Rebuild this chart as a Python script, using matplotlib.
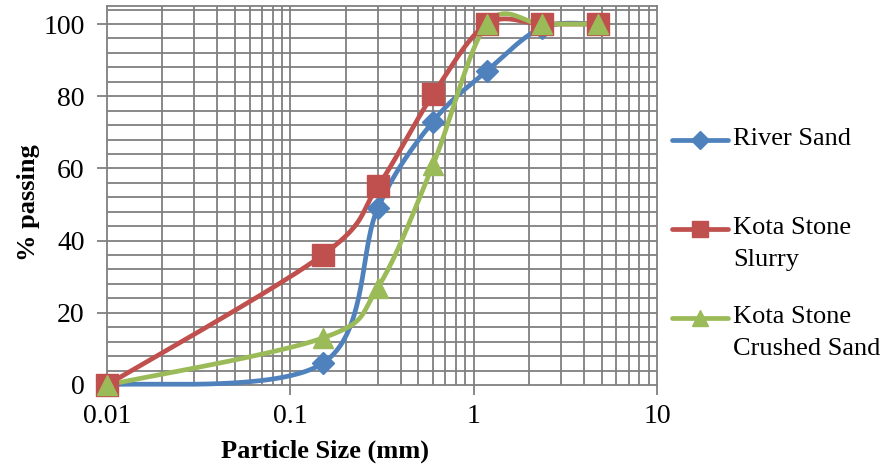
import matplotlib.pyplot as plt
import numpy as np
from matplotlib.lines import Line2D
from matplotlib.ticker import LogLocator, FixedLocator

plt.rcParams['font.family'] = ['Liberation Serif', 'DejaVu Serif']

# sieve sizes (mm) and cumulative % passing
sizes = [0.01, 0.15, 0.3, 0.6, 1.18, 2.36, 4.75]
river_sand = [0, 6, 49, 73, 87, 99, 100]
kota_slurry = [0, 36, 55, 80.5, 100, 100, 100]
kota_crushed = [0, 13, 27, 61, 100, 100, 100]

labels = ['River Sand', 'Kota Stone\nSlurry', 'Kota Stone\nCrushed Sand']
colors = ['#4F81BD', '#C0504D', '#9BBB59']
markers = ['D', 's', '^']
msizes = [11.5, 16, 15]

W, H = 889, 468
fig = plt.figure(figsize=(W / 100, H / 100), dpi=100)
ax = fig.add_axes([107 / W, (H - 385) / H, 550 / W, 379 / H])

grid_c = '#808080'
ax.set_xscale('log')
ax.set_xlim(0.01, 10)
ax.set_ylim(0, 105)
ax.xaxis.set_major_locator(FixedLocator([0.01, 0.1, 1, 10]))
ax.xaxis.set_minor_locator(LogLocator(base=10, subs=np.arange(2, 10)))
ax.yaxis.set_major_locator(FixedLocator([0, 20, 40, 60, 80, 100]))
ax.set_xticklabels(['0.01', '0.1', '1', '10'])
ax.set_yticklabels(['0', '20', '40', '60', '80', '100'])

# gridlines every 4 % and at every log subdivision
for v in np.arange(4, 105, 4):
    ax.axhline(v, color=grid_c, lw=1.3, zorder=0)
for d in [0.01, 0.1, 1]:
    for s in range(1, 10):
        if d * s > 0.01:
            ax.axvline(d * s, color=grid_c, lw=1.3, zorder=0)

for sp in ax.spines.values():
    sp.set_color(grid_c)
    sp.set_linewidth(1.3)
ax.tick_params(which='major', length=7, width=1.3, color=grid_c,
               labelsize=20, pad=7)
ax.tick_params(which='minor', length=0)
ax.tick_params(axis='y', pad=9)

ax.set_xlabel('Particle Size (mm)', fontsize=19, fontweight='bold')
ax.set_ylabel('% passing', fontsize=19, fontweight='bold')
ax.xaxis.set_label_coords(0.397, -0.143)
ax.yaxis.set_label_coords(-0.122, 0.48)


def smooth(xs, ys, n=40):
    # cubic Bezier through the points, built in display space
    pts = ax.transData.transform(np.column_stack([xs, ys]))
    P = np.vstack([pts[0], pts, pts[-1]])
    t = np.linspace(0, 1, n)[:, None]
    segs = []
    for i in range(1, len(P) - 2):
        p0, p1, p2, p3 = P[i - 1], P[i], P[i + 1], P[i + 2]
        c1 = p1 + (p2 - p0) / 6
        c2 = p2 - (p3 - p1) / 6
        segs.append((1 - t) ** 3 * p1 + 3 * (1 - t) ** 2 * t * c1
                    + 3 * (1 - t) * t ** 2 * c2 + t ** 3 * p2)
    curve = ax.transData.inverted().transform(np.vstack(segs))
    return curve[:, 0], curve[:, 1]


series = [river_sand, kota_slurry, kota_crushed]
for ys, c, m, ms in zip(series, colors, markers, msizes):
    cx, cy = smooth(sizes, ys)
    ax.plot(cx, cy, color=c, lw=3.4, zorder=3, clip_on=False,
            solid_capstyle='round')
    ax.plot(sizes, ys, ls='none', marker=m, ms=ms, color=c, zorder=4,
            clip_on=False)

# legend on the right
leg_y = [140, 229, 318]
leg_ms = [9, 12, 11]
for lab, c, m, y, ms in zip(labels, colors, markers, leg_y, leg_ms):
    fy = (H - y) / H
    fig.add_artist(Line2D([672 / W, 728 / W], [fy, fy], color=c, lw=3.4,
                          solid_capstyle='round'))
    fig.add_artist(Line2D([700 / W], [fy], marker=m, color=c, ms=ms,
                          ls='none'))
    fig.text(733 / W, fy + 12 / H, lab, fontsize=19, va='top', ha='left',
             linespacing=1.6)

fig.savefig('out.png', dpi=100)
